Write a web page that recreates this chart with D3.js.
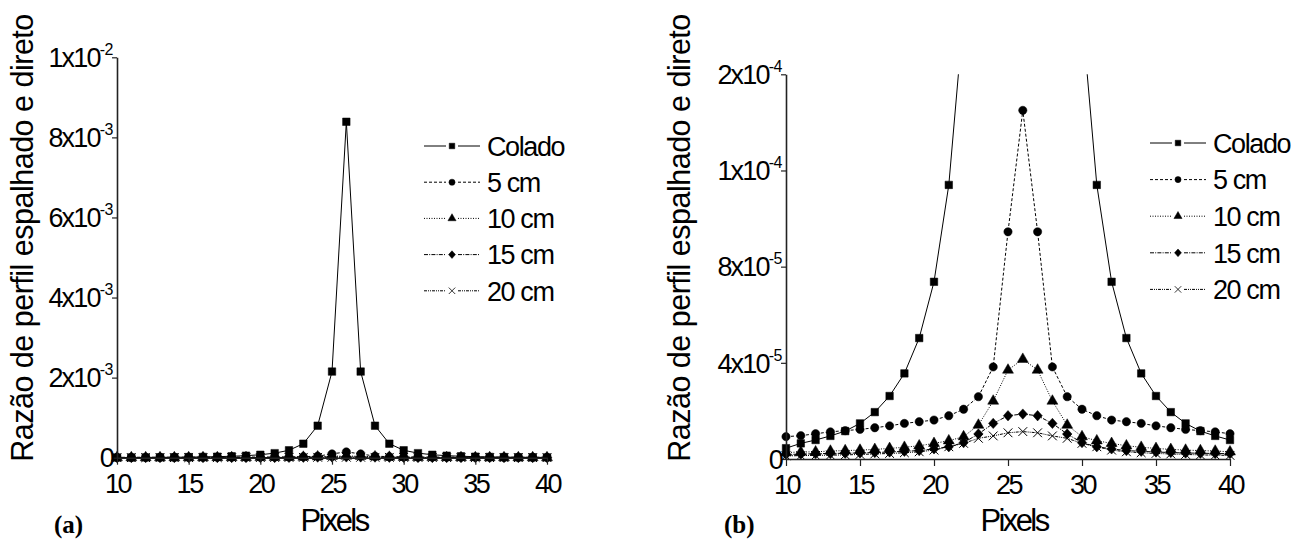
<!DOCTYPE html>
<html>
<head>
<meta charset="utf-8">
<script src="https://cdn.jsdelivr.net/npm/d3@7"></script>
<style>
  html, body { margin: 0; padding: 0; background: #fff; }
  svg { display: block; }
  text { font-family: "Liberation Sans", Arial, sans-serif; fill: #000; }
</style>
</head>
<body>
<svg id="chart" width="1309" height="544"></svg>
<script>
// ---------------- data ----------------
const pixels = [10,11,12,13,14,15,16,17,18,19,20,21,22,23,24,25,26,27,28,29,30,31,32,33,34,35,36,37,38,39,40];
const UNIT = 1e-5; // values below are in units of 1e-5
const colado = [0.45,0.65,0.79,0.96,1.16,1.48,1.95,2.62,3.56,5.03,7.37,11.4,18.5,35,80,215,839,215,80,35,18.5,11.4,7.37,5.03,3.56,2.62,1.95,1.48,1.16,0.96,0.79];
const cm5    = [0.93,0.97,1.05,1.13,1.18,1.23,1.30,1.38,1.48,1.55,1.62,1.80,2.07,2.59,3.83,9.45,14.5,9.45,3.83,2.59,2.07,1.80,1.62,1.55,1.48,1.38,1.30,1.23,1.18,1.13,1.05];
const cm10   = [0.27,0.29,0.30,0.33,0.35,0.37,0.40,0.44,0.49,0.55,0.65,0.76,0.93,1.41,2.41,3.70,4.15,3.70,2.41,1.41,0.93,0.76,0.65,0.55,0.49,0.44,0.40,0.37,0.35,0.33,0.30];
const cm15   = [0.19,0.20,0.22,0.23,0.24,0.25,0.27,0.29,0.32,0.35,0.42,0.51,0.68,1.04,1.48,1.80,1.87,1.80,1.48,1.04,0.68,0.51,0.42,0.35,0.32,0.29,0.27,0.25,0.24,0.23,0.22];
const cm20   = [0.13,0.14,0.15,0.16,0.17,0.19,0.21,0.23,0.26,0.30,0.37,0.51,0.65,0.86,0.96,1.09,1.14,1.09,0.96,0.86,0.65,0.51,0.37,0.30,0.26,0.23,0.21,0.19,0.17,0.16,0.15];

const seriesNames = ["Colado","5 cm","10 cm","15 cm","20 cm"];
const seriesValues = [colado, cm5, cm10, cm15, cm20];

const xTicks = [10,15,20,25,30,35,40];
const xTickLabels = ["10","15","20","25","30","35","40"];

const yTicksA = [0, 0.002, 0.004, 0.006, 0.008, 0.010];
const yTickLabelsA = ["0","2x10^-3","4x10^-3","6x10^-3","8x10^-3","1x10^-2"];
const yTicksB = [0, 4e-5, 8e-5, 1.2e-4, 1.6e-4];
const yTickLabelsB = ["0","4x10^-5","8x10^-5","1x10^-4","2x10^-4"];

const xTitle = "Pixels";
const yTitle = "Razão de perfil espalhado e direto";
const panelLabels = ["(a)","(b)"];

// ---------------- styles ----------------
const dashes = [null, "3,2", "1,1.5", "4,1.2,1,1.2", "3,1,1,1,1,1"];
const diamond = { draw(ctx, size) { const r = Math.sqrt(size/2); ctx.moveTo(0,-r*1.1); ctx.lineTo(r,0); ctx.lineTo(0,r*1.1); ctx.lineTo(-r,0); ctx.closePath(); } };
const symbols = [
  { type: d3.symbolSquare,   size: 56, fill: true },
  { type: d3.symbolCircle,   size: 54, fill: true },
  { type: d3.symbolTriangle, size: 52, fill: true },
  { type: diamond,           size: 44, fill: true },
  { type: d3.symbolTimes,    size: 52, fill: false }
];

const svg = d3.select("#chart");
svg.append("rect").attr("width",1309).attr("height",544).attr("fill","#fff");

function setLabel(sel, label) {
  sel.text(null);
  const parts = label.split("^");
  sel.append("tspan").text(parts[0]);
  if (parts[1]) sel.append("tspan").attr("font-size", "16px").attr("letter-spacing", "-0.5px").attr("dy", "-0.75em").text(parts[1]);
}

function panel(cfg) {
  const x = d3.scaleLinear().domain([10, 40]).range(cfg.xr);
  const y = d3.scaleLinear().domain(cfg.yd).range(cfg.yr);
  const g = svg.append("g");

  const clipId = "clip" + cfg.id;
  svg.append("clipPath").attr("id", clipId).append("rect")
    .attr("x", cfg.xr[0] - 6).attr("y", cfg.yr[1])
    .attr("width", cfg.xr[1] - cfg.xr[0] + 12).attr("height", cfg.yr[0] - cfg.yr[1] + 10);
  const plot = g.append("g").attr("clip-path", `url(#${clipId})`);

  const line = d3.line().x((d,i) => x(pixels[i])).y(d => y(d * UNIT));
  seriesValues.forEach((vals, k) => {
    plot.append("path").datum(vals).attr("d", line)
      .attr("fill", "none").attr("stroke", "#000").attr("stroke-width", 1)
      .attr("stroke-dasharray", dashes[k]);
  });
  seriesValues.forEach((vals, k) => {
    const s = symbols[k];
    plot.selectAll(null).data(vals).enter().append("path")
      .attr("transform", (d,i) => `translate(${x(pixels[i])},${y(d * UNIT)})`)
      .attr("d", d3.symbol().type(s.type).size(s.size))
      .attr("fill", s.fill ? "#000" : "none")
      .attr("stroke", "#000").attr("stroke-width", s.fill ? 0.5 : 1);
  });

  // axes
  const gx = g.append("g").attr("transform", `translate(0,${cfg.yr[0]})`);
  gx.call(d3.axisBottom(x).tickValues(pixels).tickFormat("").tickSize(4).tickSizeOuter(0));
  gx.call(d3.axisBottom(x).tickValues(xTicks).tickFormat((d,i) => xTickLabels[i]).tickSize(7).tickPadding(9).tickSizeOuter(0));
  gx.selectAll("path.domain").attr("stroke", "#222").attr("stroke-width", 1.6);
  gx.selectAll("line").attr("stroke", "#222").attr("stroke-width", 1.2);
  gx.selectAll("text").attr("font-size", "27px").attr("letter-spacing", "-2.4px")
    .style("font-family", '"Liberation Sans", Arial, sans-serif').attr("fill", "#000");

  const gy = g.append("g").attr("transform", `translate(${cfg.xr[0]},0)`);
  gy.call(d3.axisLeft(y).tickValues(cfg.yMinor).tickFormat("").tickSize(3).tickSizeOuter(0));
  gy.call(d3.axisLeft(y).tickValues(cfg.yt).tickFormat("").tickSize(5).tickPadding(0).tickSizeOuter(0));
  gy.selectAll("path.domain").attr("stroke", "#222").attr("stroke-width", 1.6);
  gy.selectAll("line").attr("stroke", "#222").attr("stroke-width", 1.2);
  gy.selectAll(".tick text").remove();
  cfg.yt.forEach((v, i) => {
    const t = g.append("text").attr("x", cfg.xr[0] - 4).attr("y", y(v)).attr("dy", "0.36em")
      .attr("text-anchor", "end").attr("font-size", "27px").attr("letter-spacing", "-1.8px");
    setLabel(t, cfg.ytl[i]);
  });

  // titles
  g.append("text").attr("x", cfg.xTitleX).attr("y", 531).attr("text-anchor", "middle")
    .attr("font-size", "31px").attr("letter-spacing", "-2.6px").text(xTitle);
  g.append("text").attr("transform", `translate(${cfg.yTitleX},238) rotate(-90)`)
    .attr("text-anchor", "middle").attr("font-size", "30.5px").attr("letter-spacing", "-0.5px").text(yTitle);
  g.append("text").attr("x", cfg.plX).attr("y", 533)
    .style("font-family", '"Liberation Serif", "Times New Roman", serif')
    .attr("font-weight", "bold").attr("font-size", "25px").text(cfg.pl);

  // legend
  const lg = g.append("g");
  seriesNames.forEach((name, k) => {
    const ly = cfg.legY + k * cfg.legDy;
    const m = cfg.legMarker;
    [[m - 28, m - 6], [m + 6, m + 28]].forEach(seg => {
      lg.append("line").attr("x1", seg[0]).attr("x2", seg[1]).attr("y1", ly).attr("y2", ly)
        .attr("stroke", "#000").attr("stroke-width", 1).attr("stroke-dasharray", dashes[k]);
    });
    const s = symbols[k];
    lg.append("path").attr("transform", `translate(${m},${ly})`)
      .attr("d", d3.symbol().type(s.type).size(s.size * 0.55))
      .attr("fill", s.fill ? "#000" : "none").attr("stroke", "#000").attr("stroke-width", s.fill ? 0.5 : 0.8);
    lg.append("text").attr("x", cfg.legText).attr("y", ly).attr("dy", "0.36em")
      .attr("font-size", "27px").attr("letter-spacing", "-1.4px").text(name);
  });
}

panel({
  id: "a", xr: [117, 547], yr: [457.7, 57.3], yd: [0, 0.01],
  yt: yTicksA, ytl: yTickLabelsA, yMinor: [0.001,0.003,0.005,0.007,0.009],
  xTitleX: 334, yTitleX: 33, plX: 54, pl: panelLabels[0],
  legY: 146, legDy: 36.2, legMarker: 452, legText: 487
});
panel({
  id: "b", xr: [786, 1230], yr: [459, 74.3], yd: [0, 1.6e-4],
  yt: yTicksB, ytl: yTickLabelsB, yMinor: [2e-5,6e-5,1e-4,1.4e-4],
  xTitleX: 1014, yTitleX: 690, plX: 724, pl: panelLabels[1],
  legY: 143, legDy: 36.6, legMarker: 1178, legText: 1213
});
</script>
</body>
</html>
